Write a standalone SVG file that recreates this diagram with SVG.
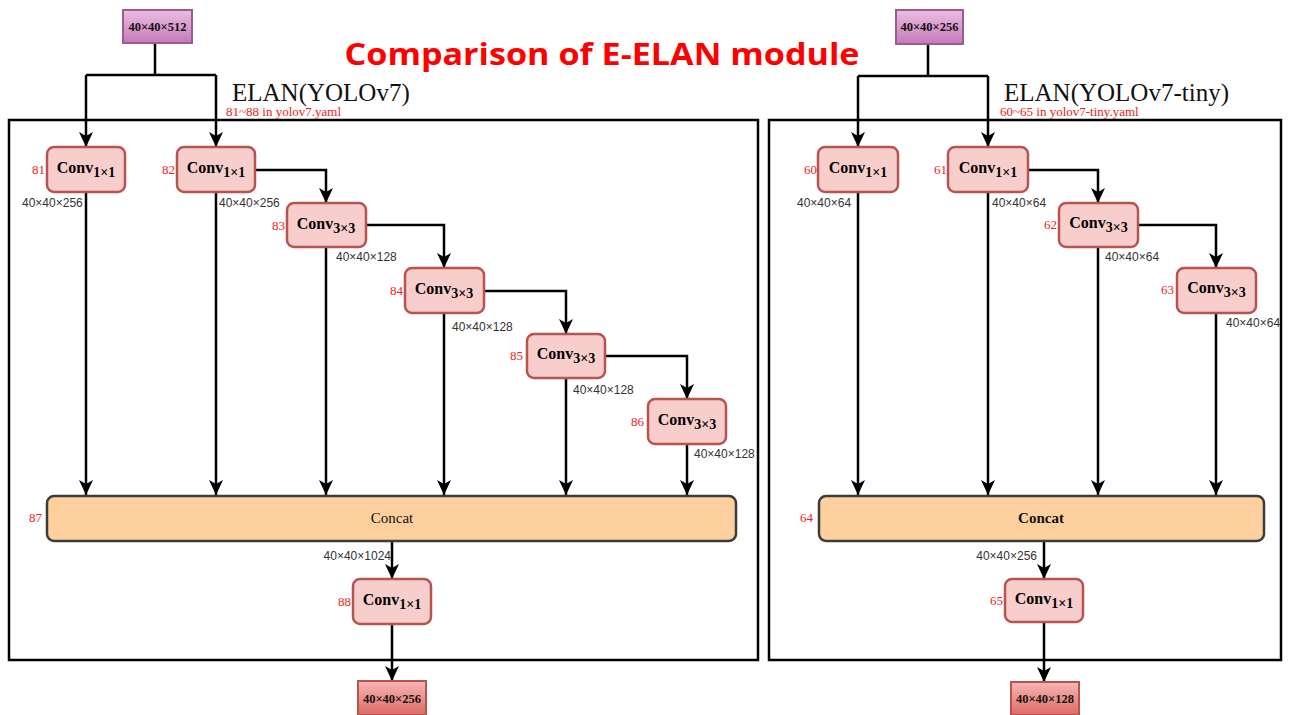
<svg xmlns="http://www.w3.org/2000/svg" width="1299" height="715" viewBox="0 0 1299 715">
<defs>
<linearGradient id="gIn" x1="0" y1="0" x2="0" y2="1"><stop offset="0" stop-color="#ecbde3"/><stop offset="1" stop-color="#c47bb8"/></linearGradient>
<linearGradient id="gOut" x1="0" y1="0" x2="0" y2="1"><stop offset="0" stop-color="#f6b7b4"/><stop offset="1" stop-color="#df6a66"/></linearGradient>
<marker id="arr" markerUnits="userSpaceOnUse" markerWidth="16" markerHeight="16" viewBox="0 0 16 16" refX="15" refY="8" orient="auto">
<path d="M0,1 L15,8 L0,15 L4,8 z" fill="#000"/>
</marker>
<style>
.frame{fill:none;stroke:#000;stroke-width:2.5}
.conv{fill:#f8cecc;stroke:#b85450;stroke-width:2.5}
.concat{fill:#fdd09e;stroke:#3c3c3c;stroke-width:2.5}
.in{fill:url(#gIn);stroke:#9b5b94;stroke-width:2}
.out{fill:url(#gOut);stroke:#b85450;stroke-width:2}
.c{fill:none;stroke:#000;stroke-width:2.5}
.ca{fill:none;stroke:#000;stroke-width:2.5;marker-end:url(#arr)}
.ct{font-family:"Liberation Serif",serif;font-weight:bold;font-size:16px;fill:#000;text-anchor:middle}
.sub{font-size:14px}
.num{font-family:"Liberation Serif",serif;font-size:13px;fill:#f02020;text-anchor:end}
.dim{font-family:"Liberation Sans",Arial,sans-serif;font-size:12px;fill:#333}
.io{font-family:"Liberation Serif",serif;font-weight:bold;font-size:12.5px;fill:#111;text-anchor:middle}
.hd{font-family:"Liberation Serif",serif;font-size:25px;fill:#111}
.yaml{font-family:"Liberation Serif",serif;font-size:13px;fill:#f02020}
</style>
</defs>
<rect width="1299" height="715" fill="#fff"/>
<text x="602" y="65" text-anchor="middle" font-family="'Open Sans',sans-serif" font-weight="bold" font-size="31" fill="#ff0000" textLength="515" lengthAdjust="spacingAndGlyphs">Comparison of E-ELAN module</text>

<g id="frame-left">
<rect class="frame" x="9" y="120" width="749" height="540"/>
<text class="hd" x="232" y="101">ELAN(YOLOv7)</text>
<text class="yaml" x="226" y="116">81~88 in yolov7.yaml</text>
</g>
<g id="frame-right">
<rect class="frame" x="769" y="120" width="512" height="540"/>
<text class="hd" x="1004" y="101">ELAN(YOLOv7-tiny)</text>
<text class="yaml" x="1000" y="116">60~65 in yolov7-tiny.yaml</text>
</g>

<g id="connectors">
<path class="c" d="M155,43 V75"/>
<path class="ca" d="M86,75 V147"/>
<path class="c" d="M86,75 H216"/>
<path class="ca" d="M216,75 V147"/>
<path class="ca" d="M86,192 V495"/>
<path class="ca" d="M216,192 V495"/>
<path class="ca" d="M255,170 H326 V203"/>
<path class="ca" d="M326,247 V495"/>
<path class="ca" d="M366,225 H444 V268"/>
<path class="ca" d="M444,313 V495"/>
<path class="ca" d="M484,291 H566 V334"/>
<path class="ca" d="M566,378 V495"/>
<path class="ca" d="M605,356 H687 V399"/>
<path class="ca" d="M687,444 V495"/>
<path class="ca" d="M392,541 V579"/>
<path class="ca" d="M392,624 V681"/>

<path class="c" d="M928,44 V76"/>
<path class="ca" d="M858,76 V147"/>
<path class="c" d="M858,76 H988"/>
<path class="ca" d="M988,76 V147"/>
<path class="ca" d="M858,192 V495"/>
<path class="ca" d="M988,192 V495"/>
<path class="ca" d="M1028,170 H1098 V203"/>
<path class="ca" d="M1098,247 V495"/>
<path class="ca" d="M1138,225 H1216 V268"/>
<path class="ca" d="M1216,313 V495"/>
<path class="ca" d="M1044,541 V579"/>
<path class="ca" d="M1044,622 V682"/>
</g>

<g id="dims">
<text class="dim" x="22" y="207">40×40×256</text>
<text class="dim" x="219" y="207">40×40×256</text>
<text class="dim" x="336" y="261">40×40×128</text>
<text class="dim" x="452" y="331">40×40×128</text>
<text class="dim" x="573" y="394">40×40×128</text>
<text class="dim" x="694" y="458">40×40×128</text>
<text class="dim" x="391" y="560" text-anchor="end">40×40×1024</text>
<text class="dim" x="797" y="207">40×40×64</text>
<text class="dim" x="992" y="207">40×40×64</text>
<text class="dim" x="1105" y="261">40×40×64</text>
<text class="dim" x="1226" y="327">40×40×64</text>
<text class="dim" x="1037" y="560" text-anchor="end">40×40×256</text>
</g>

<g id="in-left"><rect class="in" x="123" y="10" width="69" height="33"/><text class="io" x="157.5" y="31">40×40×512</text></g>
<g id="n81"><rect class="conv" x="47" y="147" width="78" height="45" rx="7"/><text class="num" x="45" y="174">81</text><text class="ct" x="86" y="173">Conv<tspan class="sub" dy="4">1×1</tspan></text></g>
<g id="n82"><rect class="conv" x="177" y="147" width="78" height="45" rx="7"/><text class="num" x="175" y="174">82</text><text class="ct" x="216" y="173">Conv<tspan class="sub" dy="4">1×1</tspan></text></g>
<g id="n83"><rect class="conv" x="287" y="203" width="79" height="44" rx="7"/><text class="num" x="285" y="230">83</text><text class="ct" x="326" y="229">Conv<tspan class="sub" dy="4">3×3</tspan></text></g>
<g id="n84"><rect class="conv" x="405" y="268" width="79" height="45" rx="7"/><text class="num" x="403" y="295">84</text><text class="ct" x="444" y="294">Conv<tspan class="sub" dy="4">3×3</tspan></text></g>
<g id="n85"><rect class="conv" x="527" y="334" width="78" height="44" rx="7"/><text class="num" x="523" y="360">85</text><text class="ct" x="566" y="359">Conv<tspan class="sub" dy="4">3×3</tspan></text></g>
<g id="n86"><rect class="conv" x="648" y="399" width="78" height="45" rx="7"/><text class="num" x="644" y="426">86</text><text class="ct" x="687" y="425">Conv<tspan class="sub" dy="4">3×3</tspan></text></g>
<g id="n87"><rect class="concat" x="47" y="496" width="689" height="45" rx="7"/><text class="num" x="42" y="522">87</text><text x="392" y="523" text-anchor="middle" font-family="'Liberation Serif',serif" font-size="15" fill="#111">Concat</text></g>
<g id="n88"><rect class="conv" x="353" y="579" width="78" height="45" rx="7"/><text class="num" x="351" y="606">88</text><text class="ct" x="392" y="605">Conv<tspan class="sub" dy="4">1×1</tspan></text></g>
<g id="out-left"><rect class="out" x="358" y="681" width="68" height="34"/><text class="io" x="392" y="703">40×40×256</text></g>

<g id="in-right"><rect class="in" x="896" y="10" width="67" height="34"/><text class="io" x="929.5" y="31">40×40×256</text></g>
<g id="n60"><rect class="conv" x="818" y="147" width="80" height="45" rx="7"/><text class="num" x="817" y="174">60</text><text class="ct" x="858" y="173">Conv<tspan class="sub" dy="4">1×1</tspan></text></g>
<g id="n61"><rect class="conv" x="948" y="147" width="80" height="45" rx="7"/><text class="num" x="947" y="174">61</text><text class="ct" x="988" y="173">Conv<tspan class="sub" dy="4">1×1</tspan></text></g>
<g id="n62"><rect class="conv" x="1059" y="203" width="79" height="44" rx="7"/><text class="num" x="1057" y="229">62</text><text class="ct" x="1098.5" y="228">Conv<tspan class="sub" dy="4">3×3</tspan></text></g>
<g id="n63"><rect class="conv" x="1177" y="268" width="79" height="45" rx="7"/><text class="num" x="1174" y="294">63</text><text class="ct" x="1216.5" y="293">Conv<tspan class="sub" dy="4">3×3</tspan></text></g>
<g id="n64"><rect class="concat" x="819" y="496" width="445" height="45" rx="7"/><text class="num" x="813" y="522">64</text><text x="1041" y="523" text-anchor="middle" font-family="'Liberation Serif',serif" font-size="15" font-weight="bold" fill="#111">Concat</text></g>
<g id="n65"><rect class="conv" x="1005" y="579" width="78" height="43" rx="7"/><text class="num" x="1003" y="605">65</text><text class="ct" x="1044" y="604">Conv<tspan class="sub" dy="4">1×1</tspan></text></g>
<g id="out-right"><rect class="out" x="1011" y="682" width="68" height="33"/><text class="io" x="1045" y="703">40×40×128</text></g>
</svg>
